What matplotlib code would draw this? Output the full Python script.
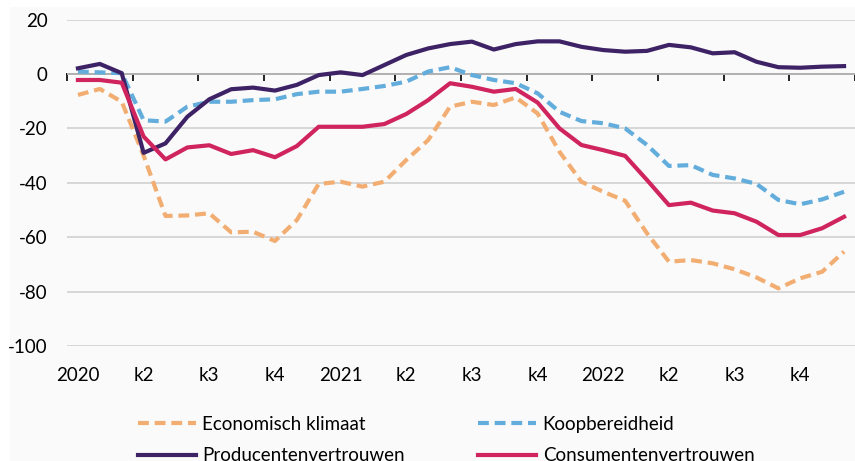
import numpy as np
import matplotlib
matplotlib.use('Agg')
import matplotlib.pyplot as plt
from matplotlib.patches import Rectangle

plt.rcParams['font.family'] = ['Lato', 'DejaVu Sans']
plt.rcParams['axes.unicode_minus'] = False

# maandcijfers jan 2020 - dec 2022
maanden = np.arange(36)
kwartaal_labels = ['2020', 'k2', 'k3', 'k4', '2021', 'k2', 'k3', 'k4',
                   '2022', 'k2', 'k3', 'k4']

economisch = [-7.7, -5.5, -10.2, -30, -52.2, -52, -51.2, -58.2, -58, -61.4, -53.7, -40.4,
              -39.6, -41.4, -39.6, -31.6, -24.3, -12, -10.2, -11.4, -8.6, -14.5, -28.6, -39.6,
              -43.3, -46.6, -58.6, -69, -68.4, -69.6, -71.8, -74.8, -78.8, -75.1, -72.7, -65.3]
koop = [0.9, 0.6, 0.3, -17, -17.5, -12, -10.2, -10.2, -9.6, -9.3, -7.4, -6.5,
        -6.5, -5.5, -4.4, -2.8, 0.9, 2.5, -0.4, -2.2, -3.4, -7.1, -13.9, -17.3,
        -18.1, -20, -26.1, -33.8, -33.5, -37.1, -38.4, -40.4, -46.3, -47.9, -46.1, -43.3]
producent = [2.1, 3.7, 0.3, -29, -25.5, -15.7, -9.3, -5.6, -5, -6.1, -4, -0.4,
             0.6, -0.4, 3.3, 7, 9.4, 11, 11.9, 9, 11, 12, 12, 10,
             8.8, 8.2, 8.5, 10.7, 9.8, 7.6, 8, 4.5, 2.5, 2.3, 2.7, 2.9]
consument = [-2.2, -2.2, -3.2, -23, -31.4, -27, -26.2, -29.4, -28, -30.6, -26.5, -19.4,
             -19.4, -19.4, -18.4, -14.7, -9.6, -3.4, -4.7, -6.5, -5.5, -10.5, -20, -26.1,
             -28, -30.1, -39, -48.2, -47.3, -50.2, -51.2, -54.3, -59.2, -59.2, -56.7, -52.5]

fig = plt.figure(figsize=(8.55, 4.61), dpi=100)
fig.patch.set_facecolor('white')
fig.patches.append(Rectangle((10/855, 0), 1, 1 - 7/461, transform=fig.transFigure,
                             facecolor='#fafafa', edgecolor='none', zorder=-5))

ax = fig.add_axes([67/855, 1 - 346/461, 788/855, (346 - 19.6)/461])
ax.set_facecolor('none')

lw = 3.0
l_eco, = ax.plot(maanden, economisch, color='#F2AE72', lw=lw, dashes=(2.6, 1.4), label='Economisch klimaat')
l_koop, = ax.plot(maanden, koop, color='#62ADDC', lw=lw, dashes=(2.6, 1.4), label='Koopbereidheid')
l_prod, = ax.plot(maanden, producent, color='#3E2266', lw=lw, label='Producentenvertrouwen')
l_cons, = ax.plot(maanden, consument, color='#D0245E', lw=lw, label='Consumentenvertrouwen')

ax.set_xlim(-0.5, 35.5)
ax.set_ylim(-100, 20)
ax.set_yticks([20, 0, -20, -40, -60, -80, -100])
ax.set_xticks(np.arange(0, 36, 3))
ax.set_xticklabels(kwartaal_labels)
ax.tick_params(axis='both', length=0, labelsize=13.5, colors='black')
ax.tick_params(axis='x', pad=15)
ax.tick_params(axis='y', pad=14)
for s in ax.spines.values():
    s.set_visible(False)
ax.yaxis.grid(True, color='#d0d0d0', lw=1.2)
ax.set_axisbelow(True)

# nullijn met kwartaalstreepjes
nul = ax.secondary_xaxis(0, transform=ax.transData)
nul.set_xticks(np.arange(-0.5, 36, 3))
nul.tick_params(length=5, width=1.2, direction='out', labelbottom=False, labeltop=False)
nul.spines['bottom'].set_linewidth(1.3)
nul.spines['top'].set_visible(False)

# kolomsgewijs gevuld: eerste kolom eco + prod, tweede koop + cons
fig.legend([l_eco, l_prod, l_koop, l_cons],
           [l.get_label() for l in (l_eco, l_prod, l_koop, l_cons)],
           loc='upper left', bbox_to_anchor=(130/855, 1 - 408/461), ncol=2, frameon=False,
           fontsize=13.5, handlelength=3.1, handletextpad=0.35, columnspacing=3.9,
           labelspacing=0.78, borderaxespad=0)

fig.savefig('out.png', dpi=100, facecolor=fig.get_facecolor())
